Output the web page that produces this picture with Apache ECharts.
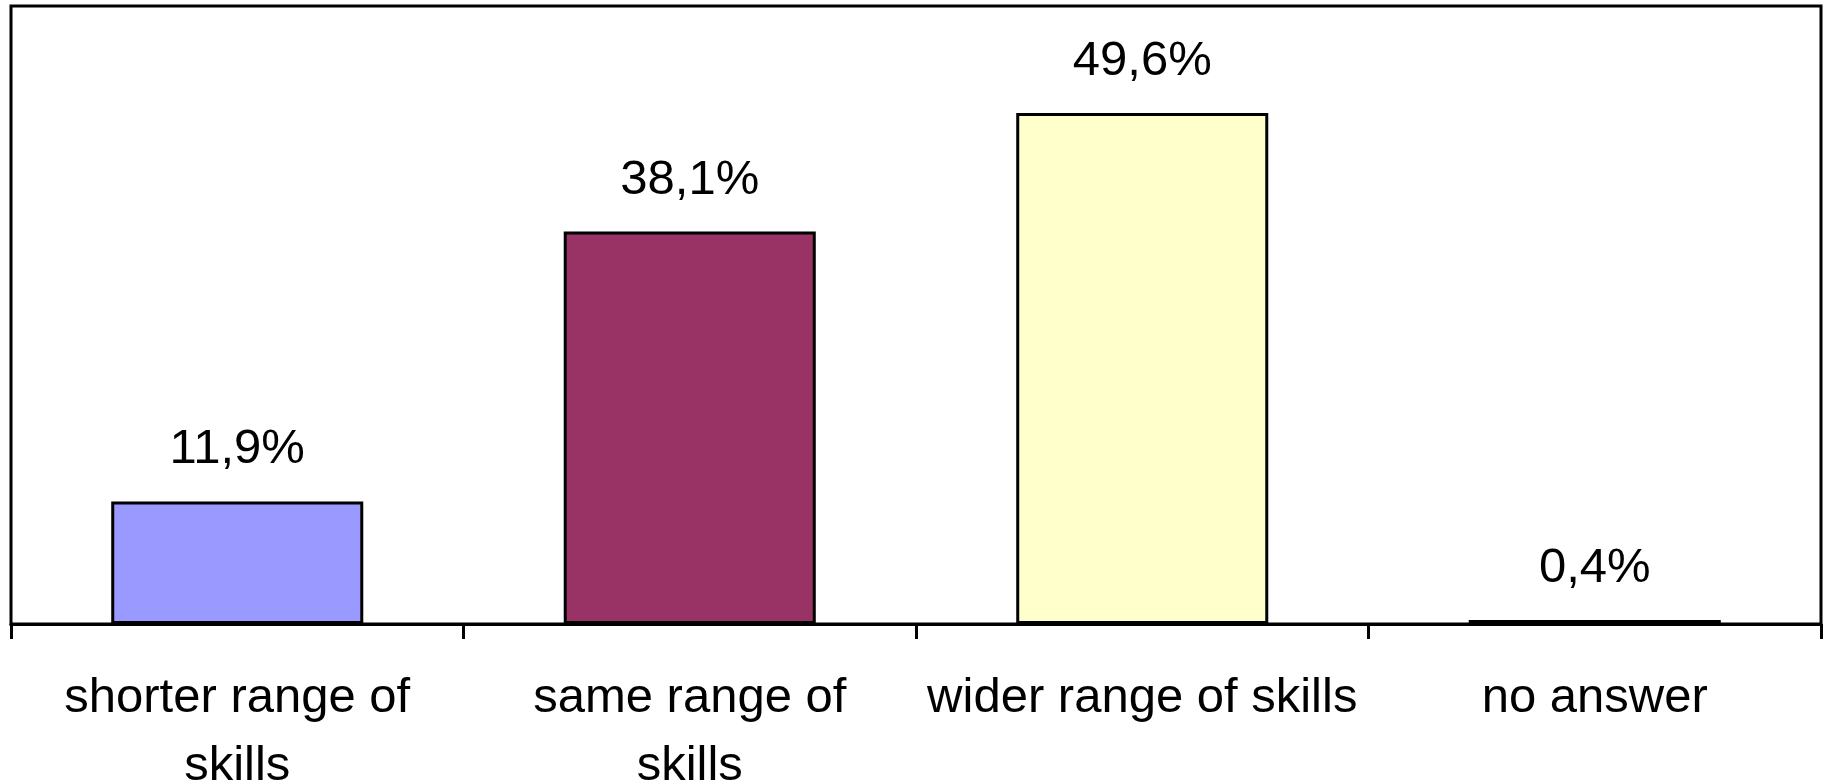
<!DOCTYPE html>
<html>
<head>
<meta charset="utf-8">
<script src="https://cdn.jsdelivr.net/npm/echarts@6/dist/echarts.min.js"></script>
<style>
  html, body { margin: 0; padding: 0; background: #fff; }
  #chart { width: 1825px; height: 780px; }
</style>
</head>
<body>
<div id="chart"></div>
<script>
// Survey answers: range of skills
const categories = ['shorter range of\nskills', 'same range of\nskills', 'wider range of skills', 'no answer'];
const shares = [11.9, 38.1, 49.6, 0.4];

// Fill colour of each bar, in category order
const barColors = ['#9999FF', '#993366', '#FFFFCC', '#CCFFFF'];

const FONT = '"Liberation Sans", Arial, sans-serif';

const chart = echarts.init(document.getElementById('chart'), null, { renderer: 'canvas' });

chart.setOption({
  animation: false,
  backgroundColor: '#ffffff',
  grid: {
    left: 11,
    right: 4,
    top: 6,
    bottom: 156,
    show: true,
    borderColor: '#000',
    borderWidth: 3,
    containLabel: false,
    outerBoundsMode: 'none'
  },
  xAxis: {
    type: 'category',
    data: categories,
    boundaryGap: true,
    axisLine: { show: true, lineStyle: { color: '#000', width: 3 } },
    axisTick: { show: true, length: 15, lineStyle: { color: '#000', width: 3 } },
    axisLabel: {
      interval: 0,
      margin: 40,
      color: '#000',
      fontFamily: FONT,
      fontSize: 49,
      lineHeight: 68
    }
  },
  yAxis: {
    type: 'value',
    min: 0,
    max: 60,
    show: false,
    splitLine: { show: false }
  },
  series: [{
    type: 'bar',
    barWidth: '55.7%',
    data: shares.map((v, i) => ({
      value: v,
      itemStyle: { color: barColors[i] }
    })),
    itemStyle: { borderColor: '#000', borderWidth: 3 },
    label: {
      show: true,
      position: 'top',
      distance: 27,
      color: '#000',
      fontFamily: FONT,
      fontSize: 49,
      formatter: p => p.value.toFixed(1).replace('.', ',') + '%'
    }
  }]
});
</script>
</body>
</html>
